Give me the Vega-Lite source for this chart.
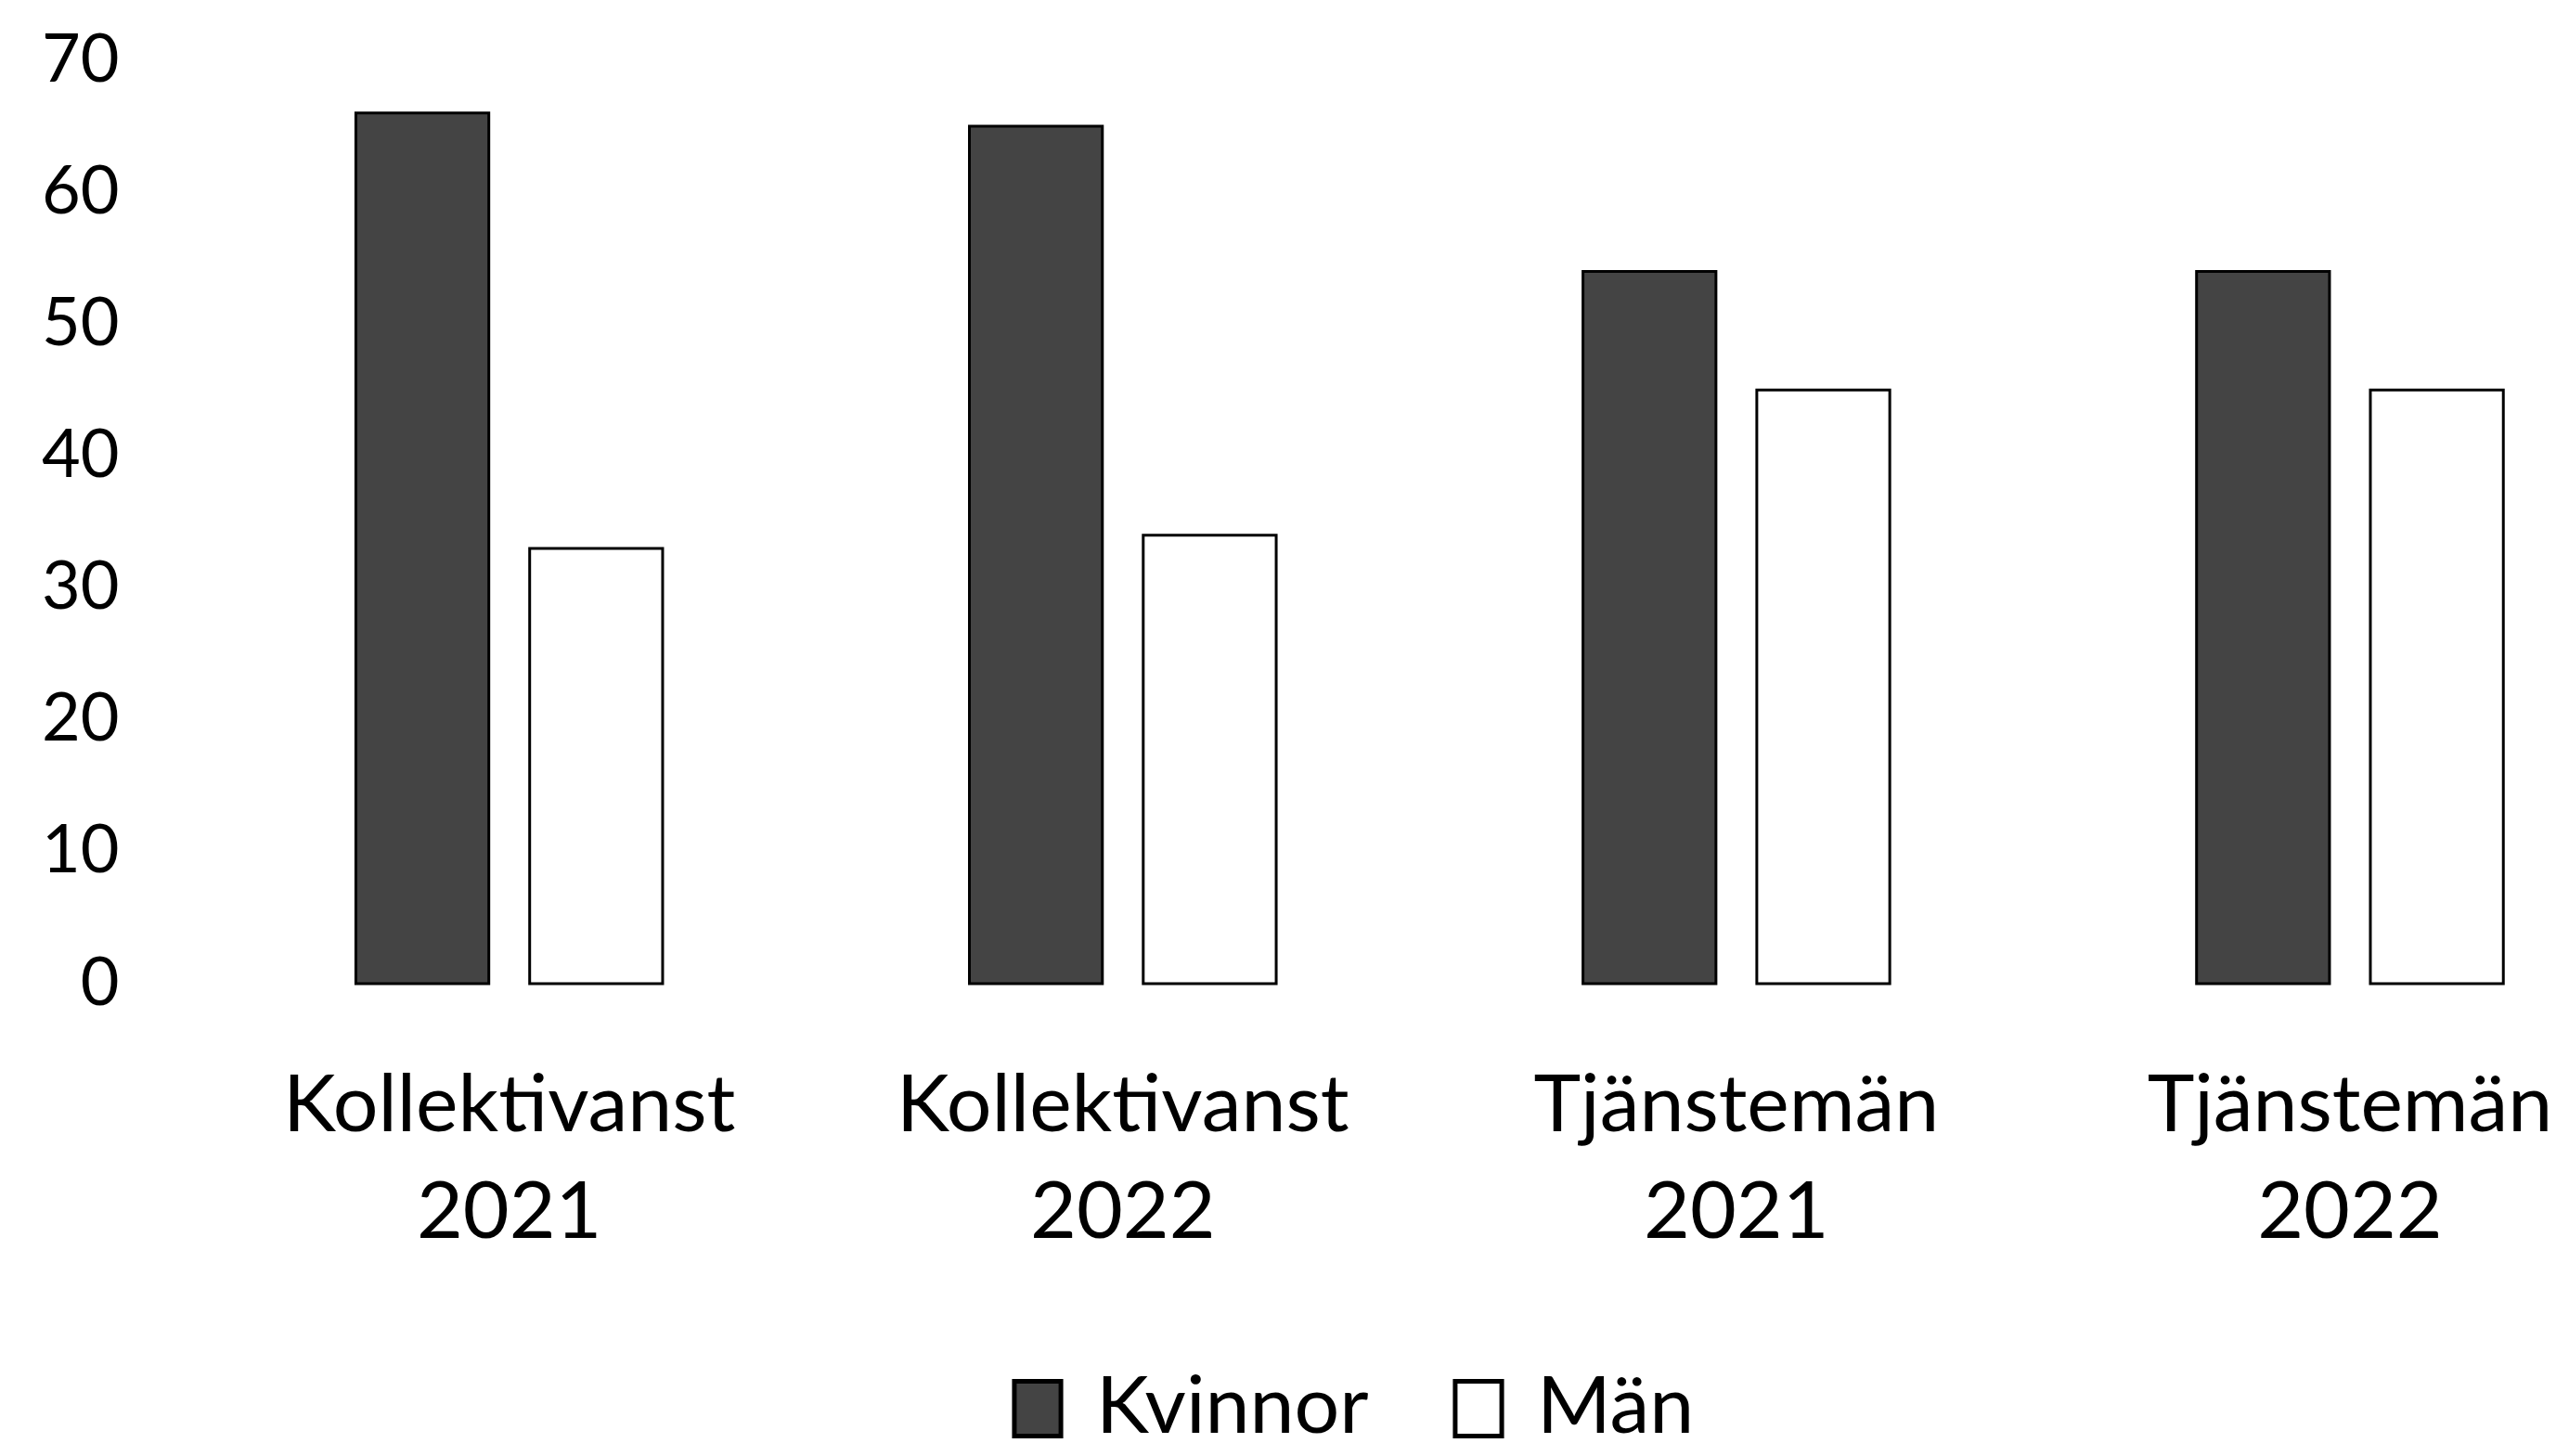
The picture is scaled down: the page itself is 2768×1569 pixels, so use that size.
{
  "$schema": "https://vega.github.io/schema/vega-lite/v6.json",
  "width": 2610,
  "height": 995,
  "padding": {"top": 29, "left": 44, "right": 0, "bottom": 0},
  "background": "white",
  "data": {
    "values": [
      {"grupp": "Kollektivanst 2021", "kon": "Kvinnor", "andel": 66},
      {"grupp": "Kollektivanst 2021", "kon": "Män", "andel": 33},
      {"grupp": "Kollektivanst 2022", "kon": "Kvinnor", "andel": 65},
      {"grupp": "Kollektivanst 2022", "kon": "Män", "andel": 34},
      {"grupp": "Tjänstemän 2021", "kon": "Kvinnor", "andel": 54},
      {"grupp": "Tjänstemän 2021", "kon": "Män", "andel": 45},
      {"grupp": "Tjänstemän 2022", "kon": "Kvinnor", "andel": 54},
      {"grupp": "Tjänstemän 2022", "kon": "Män", "andel": 45}
    ]
  },
  "mark": {"type": "bar", "stroke": "black", "strokeWidth": 3},
  "encoding": {
    "x": {
      "field": "grupp",
      "type": "nominal",
      "sort": null,
      "title": null,
      "scale": {"paddingInner": 0.5, "paddingOuter": 0.224, "align": 0.805},
      "axis": {
        "labelAngle": 0,
        "labelExpr": "split(datum.label, ' ')",
        "labelFont": "Lato",
        "labelFontSize": 86,
        "labelLineHeight": 115,
        "labelPadding": 90,
        "labelLimit": 0,
        "labelColor": "black",
        "domain": false,
        "ticks": false
      }
    },
    "xOffset": {
      "field": "kon",
      "type": "nominal",
      "scale": {"paddingInner": 0.235, "paddingOuter": 0}
    },
    "y": {
      "field": "andel",
      "type": "quantitative",
      "title": null,
      "scale": {"domain": [0, 70], "nice": false},
      "axis": {
        "values": [0, 10, 20, 30, 40, 50, 60, 70],
        "labelFont": "Lato",
        "labelFontSize": 72,
        "labelPadding": 17,
        "labelColor": "black",
        "domain": false,
        "ticks": false,
        "grid": false
      }
    },
    "fill": {
      "field": "kon",
      "type": "nominal",
      "title": null,
      "scale": {"domain": ["Kvinnor", "Män"], "range": ["#444444", "#ffffff"]},
      "legend": {
        "orient": "bottom",
        "direction": "horizontal",
        "offset": 125,
        "symbolType": "M-0.85,-1H0.85V1H-0.85Z",
        "symbolSize": 3481,
        "symbolStrokeColor": "black",
        "symbolStrokeWidth": 5,
        "labelFont": "Lato",
        "labelFontSize": 86,
        "labelLimit": 0,
        "labelColor": "black",
        "labelOffset": 20,
        "columnPadding": 75
      }
    }
  },
  "config": {
    "view": {"stroke": null},
    "legend": {"layout": {"bottom": {"anchor": "middle"}}}
  }
}
